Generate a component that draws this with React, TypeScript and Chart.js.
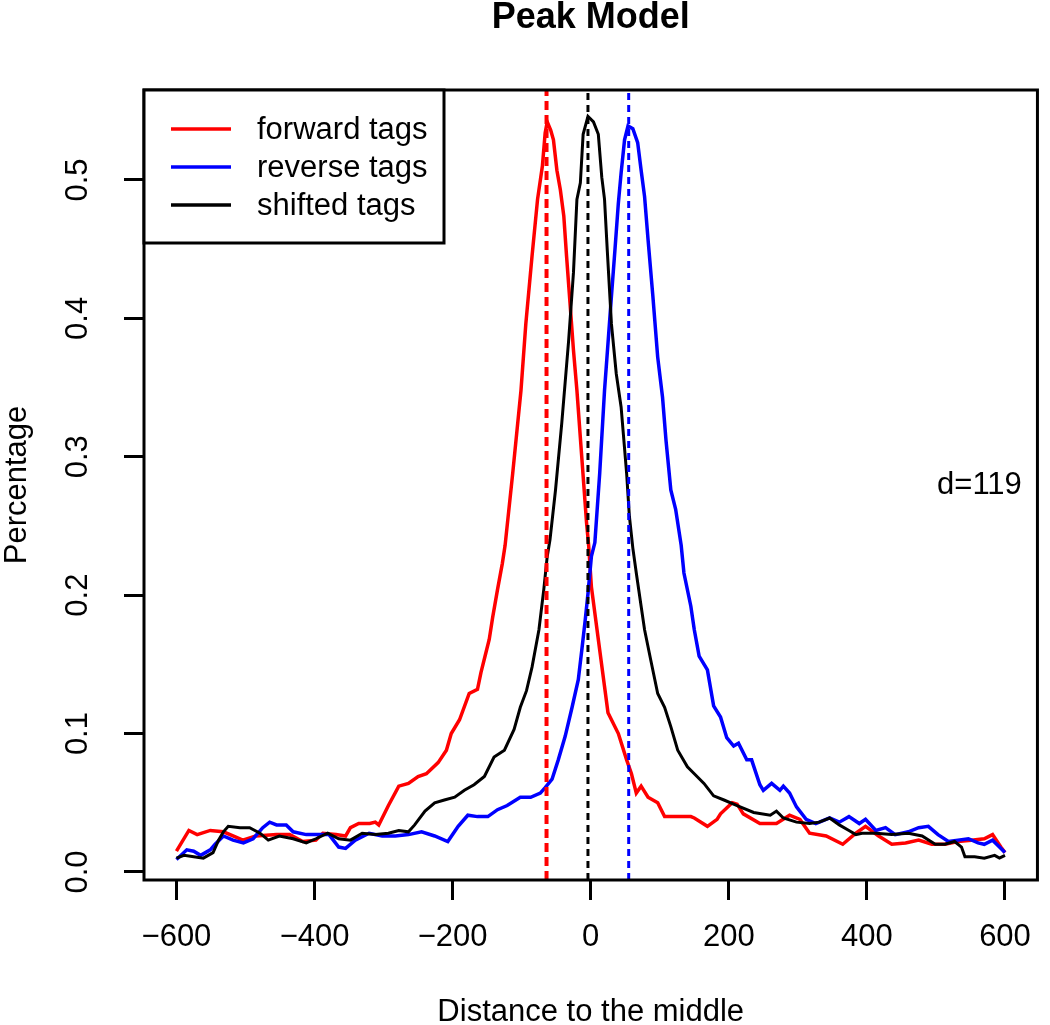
import React, { useEffect, useRef } from "react";
import { Chart, registerables } from "chart.js";

Chart.register(...registerables);

// ---------- data ----------
const forwardX = [
  -600, -582, -570, -551, -532, -513, -504, -485, -455, -436, -417, -398, -388, -369, -355, -348, -336, -320, -312, -307,
  -293, -278, -264, -250, -238, -221, -209, -202, -190, -176, -164, -159, -152, -147, -142, -135, -128, -124, -113, -101,
  -94, -85, -77, -70, -66, -63, -58, -54, -49, -44, -39, -35, -30, -25, -20, -13, -6, -3, 1, 11,
  20, 25, 40, 52, 59, 66, 73, 83, 97, 107, 126, 145, 150, 169, 183, 188, 205, 212, 221, 245,
  269, 288, 303, 317, 341, 365, 384, 398, 417, 436, 456, 475, 494, 513, 532, 551, 570, 582, 594, 600,
];
const forwardY = [
  0.015, 0.030, 0.027, 0.030, 0.029, 0.025, 0.023, 0.026, 0.027, 0.027, 0.022, 0.023, 0.028, 0.027, 0.026, 0.032, 0.035, 0.035, 0.036, 0.034,
  0.048, 0.062, 0.064, 0.069, 0.071, 0.079, 0.088, 0.100, 0.110, 0.129, 0.132, 0.144, 0.158, 0.168, 0.184, 0.204, 0.223, 0.236, 0.288, 0.348,
  0.396, 0.445, 0.486, 0.510, 0.534, 0.542, 0.536, 0.529, 0.507, 0.493, 0.474, 0.445, 0.411, 0.377, 0.348, 0.300, 0.252, 0.236, 0.206, 0.168,
  0.134, 0.115, 0.100, 0.081, 0.071, 0.057, 0.062, 0.054, 0.050, 0.040, 0.040, 0.040, 0.039, 0.033, 0.038, 0.042, 0.050, 0.049, 0.042, 0.035,
  0.035, 0.041, 0.038, 0.028, 0.026, 0.020, 0.028, 0.033, 0.026, 0.020, 0.021, 0.023, 0.020, 0.020, 0.022, 0.023, 0.024, 0.027, 0.018, 0.014,
];

const reverseX = [
  -600, -585, -575, -565, -551, -544, -532, -518, -503, -489, -475, -465, -455, -441, -431, -412, -398, -379, -365, -355,
  -341, -321, -302, -283, -264, -245, -226, -207, -192, -178, -164, -149, -135, -121, -102, -87, -73, -66, -56, -47,
  -37, -27, -18, -13, -8, -4, 1, 6, 13, 20, 25, 30, 35, 40, 44, 49, 54, 61, 68, 73,
  78, 83, 90, 97, 104, 109, 116, 123, 131, 135, 145, 150, 157, 169, 178, 188, 197, 207, 214, 226,
  233, 245, 250, 262, 274, 279, 288, 298, 312, 326, 346, 360, 374, 389, 398, 413, 427, 441, 460, 475,
  489, 503, 518, 532, 547, 561, 570, 582, 592, 600,
];
const reverseY = [
  0.009, 0.016, 0.015, 0.012, 0.016, 0.020, 0.026, 0.023, 0.021, 0.024, 0.032, 0.036, 0.034, 0.034, 0.029, 0.027, 0.027, 0.027, 0.018, 0.017,
  0.023, 0.028, 0.026, 0.026, 0.027, 0.029, 0.026, 0.022, 0.033, 0.041, 0.040, 0.040, 0.045, 0.048, 0.054, 0.054, 0.057, 0.061, 0.067, 0.081,
  0.098, 0.119, 0.139, 0.160, 0.182, 0.201, 0.228, 0.238, 0.288, 0.348, 0.382, 0.416, 0.449, 0.483, 0.505, 0.529, 0.539, 0.537, 0.527, 0.507,
  0.488, 0.457, 0.416, 0.372, 0.343, 0.312, 0.276, 0.262, 0.236, 0.216, 0.192, 0.175, 0.156, 0.146, 0.120, 0.112, 0.097, 0.091, 0.093, 0.081,
  0.081, 0.063, 0.059, 0.064, 0.059, 0.062, 0.057, 0.047, 0.038, 0.035, 0.039, 0.036, 0.040, 0.035, 0.038, 0.030, 0.032, 0.027, 0.029, 0.032,
  0.033, 0.027, 0.022, 0.023, 0.024, 0.021, 0.020, 0.023, 0.018, 0.014,
];

const shiftedX = [
  -600, -589, -575, -561, -547, -539, -532, -525, -508, -494, -479, -467, -451, -431, -412, -398, -381, -365, -348, -331,
  -312, -293, -278, -264, -255, -240, -226, -212, -197, -183, -169, -154, -140, -125, -111, -102, -93, -85, -75, -68,
  -63, -59, -51, -42, -32, -25, -20, -15, -11, -4, 4, 11, 16, 20, 24, 30, 37, 44, 52, 56,
  61, 66, 73, 78, 87, 97, 107, 116, 126, 140, 150, 164, 178, 193, 212, 236, 260, 269, 279, 298,
  317, 331, 346, 360, 374, 384, 393, 413, 436, 460, 480, 499, 513, 527, 537, 542, 556, 570, 585, 592,
  600,
];
const shiftedY = [
  0.010, 0.012, 0.011, 0.010, 0.014, 0.023, 0.029, 0.033, 0.032, 0.032, 0.028, 0.023, 0.026, 0.024, 0.021, 0.024, 0.028, 0.024, 0.023, 0.028,
  0.027, 0.028, 0.030, 0.029, 0.034, 0.044, 0.050, 0.052, 0.054, 0.059, 0.063, 0.069, 0.083, 0.088, 0.103, 0.119, 0.131, 0.148, 0.175, 0.204,
  0.228, 0.240, 0.276, 0.324, 0.384, 0.433, 0.486, 0.498, 0.533, 0.546, 0.542, 0.533, 0.502, 0.486, 0.449, 0.396, 0.360, 0.336, 0.288, 0.257,
  0.234, 0.216, 0.192, 0.175, 0.153, 0.129, 0.119, 0.105, 0.088, 0.076, 0.071, 0.064, 0.055, 0.052, 0.048, 0.043, 0.041, 0.044, 0.039, 0.036,
  0.035, 0.036, 0.039, 0.034, 0.030, 0.027, 0.028, 0.028, 0.027, 0.028, 0.026, 0.020, 0.020, 0.022, 0.018, 0.011, 0.011, 0.010, 0.012, 0.010,
  0.012,
];

const peakPositions = [-64, -4, 55]; // forward peak, shifted peak, reverse peak
const seriesLabels = ["forward tags", "reverse tags", "shifted tags"];
const xTickValues = [-600, -400, -200, 0, 200, 400, 600];
const yTickValues = [0, 0.1, 0.2, 0.3, 0.4, 0.5];
const dLabel = "d=119";
const dLabelPos = [563, 0.279];

const X_MIN = -647;
const X_MAX = 647;
const Y_MIN = -0.0058;
const Y_MAX = 0.565;

const FONT = "'Liberation Sans', Arial, Helvetica, sans-serif";
const RED = "#ff0000";
const BLUE = "#0000ff";
const BLACK = "#000000";

const toPoints = (xs: number[], ys: number[]) => xs.map((x, i) => ({ x, y: ys[i] }));

const overlayPlugin = {
  id: "rOverlay",
  afterDatasetsDraw(chart: any) {
    const { ctx, chartArea, scales } = chart;
    const { left, top, right, bottom } = chartArea;
    ctx.save();
    // plot box
    ctx.strokeStyle = BLACK;
    ctx.lineWidth = 3;
    ctx.strokeRect(left, top, right - left, bottom - top);

    // title
    ctx.fillStyle = BLACK;
    ctx.font = `bold 36px ${FONT}`;
    ctx.textAlign = "center";
    ctx.textBaseline = "middle";
    ctx.fillText("Peak Model", (left + right) / 2, 18);

    // legend
    const lw = 300;
    const lh = 153;
    ctx.fillStyle = "#ffffff";
    ctx.fillRect(left, top, lw, lh);
    ctx.strokeStyle = BLACK;
    ctx.lineWidth = 3;
    ctx.strokeRect(left, top, lw, lh);
    const colors = [RED, BLUE, BLACK];
    ctx.font = `31px ${FONT}`;
    ctx.textAlign = "left";
    ctx.textBaseline = "middle";
    seriesLabels.forEach((lab, i) => {
      const y = top + 39 + i * 38;
      ctx.strokeStyle = colors[i];
      ctx.lineWidth = 3.5;
      ctx.beginPath();
      ctx.moveTo(left + 27, y);
      ctx.lineTo(left + 87, y);
      ctx.stroke();
      ctx.fillStyle = BLACK;
      ctx.fillText(lab, left + 113, y + 1);
    });

    // d label
    ctx.font = `31px ${FONT}`;
    ctx.textAlign = "center";
    ctx.textBaseline = "middle";
    ctx.fillStyle = BLACK;
    ctx.fillText(dLabel, scales.x.getPixelForValue(dLabelPos[0]), scales.y.getPixelForValue(dLabelPos[1]));
    ctx.restore();
  },
};

export default function App() {
  const canvasRef = useRef<HTMLCanvasElement | null>(null);

  useEffect(() => {
    document.body.style.margin = "0";
    const canvas = canvasRef.current;
    if (!canvas) return;
    Chart.defaults.font.family = FONT;
    Chart.defaults.color = BLACK;

    const vline = (x: number, color: string, width: number, dash: number[], order: number) => ({
      label: "",
      data: [
        { x, y: Y_MIN },
        { x, y: Y_MAX },
      ],
      borderColor: color,
      borderWidth: width,
      borderDash: dash,
      pointRadius: 0,
      order,
    });

    const chart = new Chart(canvas, {
      type: "line",
      data: {
        datasets: [
          {
            label: seriesLabels[0],
            data: toPoints(forwardX, forwardY),
            borderColor: RED,
            borderWidth: 3.5,
            pointRadius: 0,
            tension: 0,
            order: 6,
          },
          {
            label: seriesLabels[1],
            data: toPoints(reverseX, reverseY),
            borderColor: BLUE,
            borderWidth: 3.5,
            pointRadius: 0,
            tension: 0,
            order: 5,
          },
          {
            label: seriesLabels[2],
            data: toPoints(shiftedX, shiftedY),
            borderColor: BLACK,
            borderWidth: 3,
            pointRadius: 0,
            tension: 0,
            order: 4,
          },
          vline(peakPositions[0], RED, 4, [9, 5], 3),
          vline(peakPositions[1], BLACK, 3, [7, 5], 2),
          vline(peakPositions[2], BLUE, 3, [7, 5], 1),
        ] as any,
      },
      options: {
        responsive: false,
        animation: false,
        events: [],
        layout: { padding: { top: 90, right: 4, bottom: 0, left: 0 } },
        plugins: {
          legend: { display: false },
          title: { display: false },
          tooltip: { enabled: false },
        },
        scales: {
          x: {
            type: "linear",
            min: X_MIN,
            max: X_MAX,
            afterBuildTicks: (s: any) => {
              s.ticks = xTickValues.map((v) => ({ value: v }));
            },
            afterFit: (s: any) => {
              s.height = 145;
            },
            grid: {
              drawOnChartArea: false,
              drawTicks: true,
              tickLength: 20,
              tickWidth: 3,
              tickColor: BLACK,
            },
            border: { display: false },
            ticks: {
              autoSkip: false,
              maxRotation: 0,
              minRotation: 0,
              padding: 19,
              color: BLACK,
              font: { size: 31, family: FONT },
              callback: (v: any) => (Number(v) < 0 ? "\u2212" + Math.abs(Number(v)) : String(v)),
            },
            title: {
              display: true,
              text: "Distance to the middle",
              color: BLACK,
              font: { size: 31, family: FONT, lineHeight: 1 },
              padding: { top: 0, bottom: -3 },
            },
          },
          y: {
            type: "linear",
            min: Y_MIN,
            max: Y_MAX,
            afterBuildTicks: (s: any) => {
              s.ticks = yTickValues.map((v) => ({ value: v }));
            },
            afterFit: (s: any) => {
              s.width = 144;
            },
            grid: {
              drawOnChartArea: false,
              drawTicks: true,
              tickLength: 20,
              tickWidth: 3,
              tickColor: BLACK,
            },
            border: { display: false },
            ticks: {
              autoSkip: false,
              minRotation: 90,
              maxRotation: 90,
              crossAlign: "center",
              padding: 24,
              color: BLACK,
              font: { size: 31, family: FONT },
              callback: (v: any) => Number(v).toFixed(1),
            },
            title: {
              display: true,
              text: "Percentage",
              color: BLACK,
              font: { size: 31, family: FONT, lineHeight: 1 },
              padding: { top: 2, bottom: 0 },
            },
          },
        },
      } as any,
      plugins: [overlayPlugin],
    });

    return () => {
      chart.destroy();
    };
  }, []);

  return (
    <div style={{ width: 1050, height: 1025, position: "relative", background: "#ffffff" }}>
      <canvas ref={canvasRef} width={1050} height={1025} style={{ display: "block" }} />
    </div>
  );
}
